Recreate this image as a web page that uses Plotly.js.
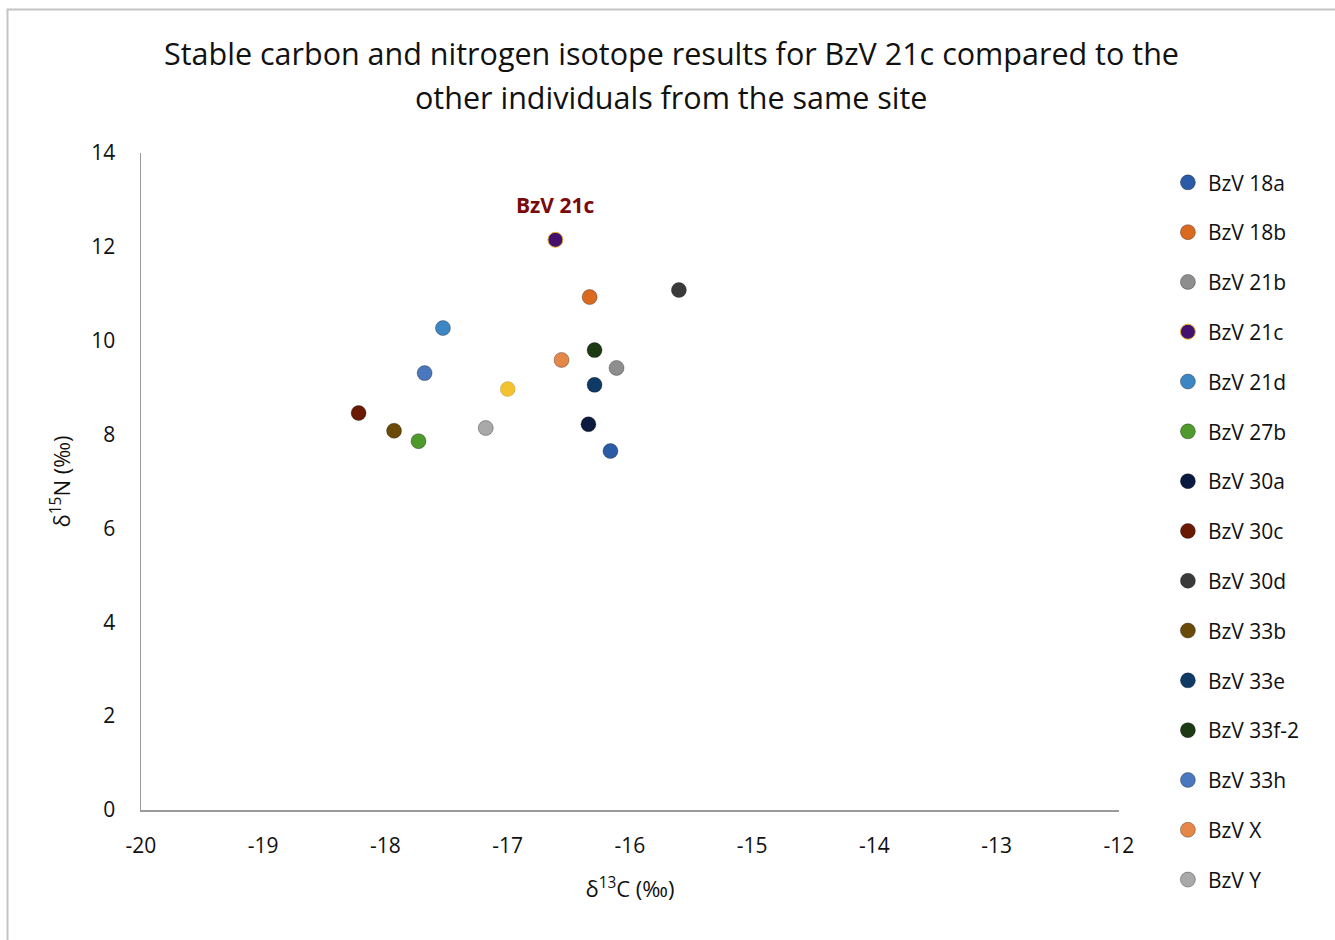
<!DOCTYPE html>
<html><head><meta charset="utf-8">
<script src="https://cdn.plot.ly/plotly-3.0.1.min.js"></script>
<style>html,body{margin:0;padding:0;background:#fff}#chart{width:1335px;height:940px}</style>
</head><body><div id="chart"></div>
<script>
const names = ["BzV 18a","BzV 18b","BzV 21b","BzV 21c","BzV 21d","BzV 27b","BzV 30a","BzV 30c","BzV 30d","BzV 33b","BzV 33e","BzV 33f-2","BzV 33h","BzV X","BzV Y"];
const d13C = [-16.16,-16.33,-16.11,-16.61,-17.53,-17.73,-16.34,-18.22,-15.60,-17.93,-16.29,-16.29,-17.68,-16.56,-17.18];
const d15N = [7.65,10.93,9.42,12.15,10.27,7.86,8.22,8.46,11.08,8.08,9.06,9.80,9.31,9.59,8.14];
const colors = ["#2B5AA6","#DA6A20","#8E8E8E","#43106E","#3D86C4","#4F9A2C","#0C1A40","#6A1A02","#3A3A3A","#6A4A08","#0F3A66","#1D3A14","#4A77BE","#E6874A","#A9A9A9"];
const extraName = "BzV 21c (mean)";
const extraC = [-17.00];
const extraN = [8.97];
const extraColor = "#F2C230";
const labelText = "BzV 21c";
const titleLines = ["Stable carbon and nitrogen isotope results for BzV 21c compared to the","other individuals from the same site"];
const xTickVals = [-20,-19,-18,-17,-16,-15,-14,-13,-12];
const xTickText = ["-20","-19","-18","-17","-16","-15","-14","-13","-12"];
const yTickVals = [0,2,4,6,8,10,12,14];

const traces = names.map((n,i)=>({
  type:"scatter", mode:"markers", name:n, x:[d13C[i]], y:[d15N[i]],
  legendgroup:"g"+i,
  marker:{size:15, color:colors[i], line:{width:1, color: i===3 ? "#E8B830" : "rgba(0,0,0,0.3)"}}
}));
traces.push({type:"scatter", mode:"markers", name:extraName, x:extraC, y:extraN, showlegend:false,
  marker:{size:15, color:extraColor, line:{width:1,color:"rgba(0,0,0,0.12)"}}});

const font = "Open Sans, Noto Sans, sans-serif";
const layout = {
  width:1335, height:940,
  margin:{l:141, r:216, t:153, b:130},
  paper_bgcolor:"#fff", plot_bgcolor:"#fff",
  font:{family:font, size:20, color:"#111"},
  xaxis:{range:[-20,-12], tickvals:xTickVals, ticktext:xTickText, showgrid:false, zeroline:false, showline:true, linecolor:"#9a9a9a", linewidth:1.5,
    ticks:"outside", ticklen:16, tickcolor:"rgba(0,0,0,0)", tickfont:{size:21},
    title:{text:"δ<sup>13</sup>C (‰)", font:{size:22}, standoff:24}},
  yaxis:{range:[0,14], tickvals:yTickVals, showgrid:false, zeroline:false, showline:true, linecolor:"#9a9a9a", linewidth:1.5,
    ticks:"outside", ticklen:20, tickcolor:"rgba(0,0,0,0)", tickfont:{size:21},
    title:{text:"δ<sup>15</sup>N (‰)", font:{size:22}, standoff:14}},
  legend:{x:1.05, xanchor:"left", y:0.986, yanchor:"top", font:{size:21, color:"#111"},
    tracegroupgap:19.5, itemwidth:30, bgcolor:"rgba(0,0,0,0)", maxheight:900},
  annotations:[
    {x:d13C[3], y:12.89, xref:"x", yref:"y", text:"<b>"+labelText+"</b>", showarrow:false, font:{size:21, color:"#7A0A0A"}},
    {x:0.542, y:1.152, xref:"paper", yref:"paper", text:titleLines[0], showarrow:false, xanchor:"center", yanchor:"middle", font:{size:30.5, color:"#111"}},
    {x:0.542, y:1.085, xref:"paper", yref:"paper", text:titleLines[1], showarrow:false, xanchor:"center", yanchor:"middle", font:{size:30.5, color:"#111"}}
  ],
  shapes:[{type:"rect", xref:"paper", yref:"paper", x0:-0.1365, x1:1.23, y0:-0.21, y1:1.2185,
    line:{color:"#c4c4c4", width:2}, fillcolor:"rgba(0,0,0,0)", layer:"below"}]
};
Plotly.newPlot("chart", traces, layout, {displayModeBar:false, staticPlot:true});
</script></body></html>
